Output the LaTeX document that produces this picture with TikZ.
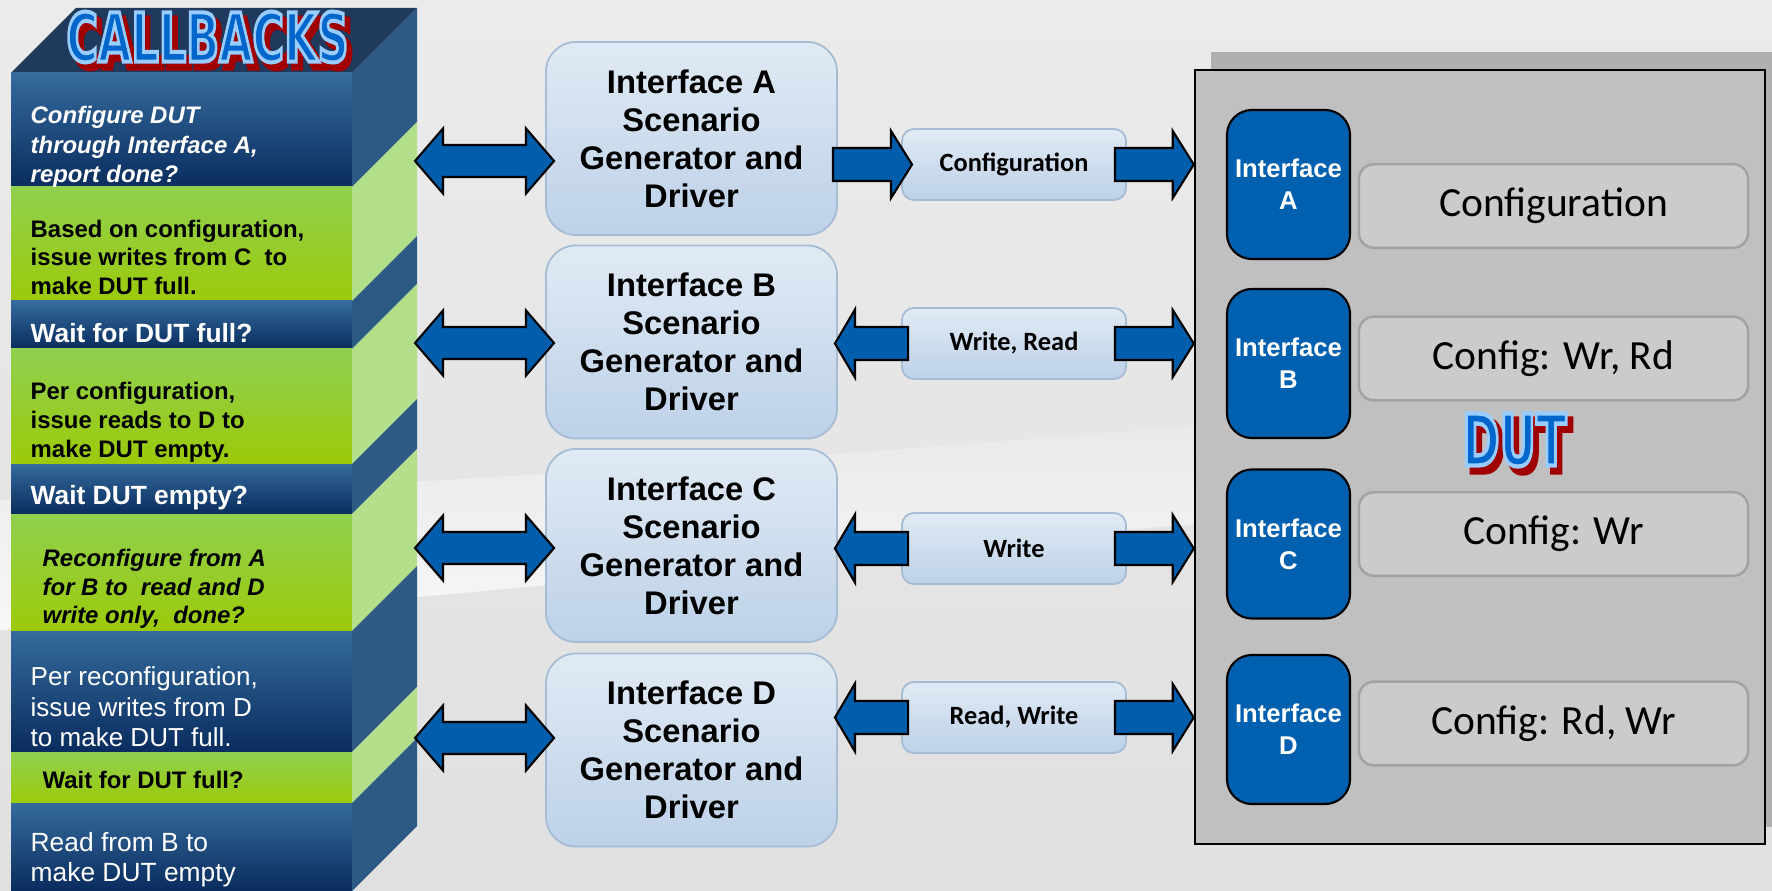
\documentclass[tikz,border=0pt]{standalone}
\usepackage{fontspec}
\setmainfont{Liberation Sans}
\newfontfamily\calib{Carlito}
\newfontfamily\wafont{DejaVu Sans}[BoldFeatures={FakeBold=6}]
\newfontfamily\wafontR{DejaVu Sans}[BoldFeatures={FakeBold=9}]
\usepackage{graphicx}
\usetikzlibrary{calc}

\definecolor{bgA}{HTML}{EBEBEB}
\definecolor{bgB}{HTML}{E0E0E0}
\definecolor{bluetop}{HTML}{356B9D}
\definecolor{bluemid}{HTML}{275688}
\definecolor{bluebot}{HTML}{0A2C5E}
\definecolor{greentop}{HTML}{90D050}
\definecolor{greenbot}{HTML}{9CCA0A}
\definecolor{greenside}{HTML}{B3DF8A}
\definecolor{blueside}{HTML}{2D5985}
\definecolor{topnavy}{HTML}{1F3A5D}
\definecolor{arrowblue}{HTML}{005EAC}
\definecolor{ifblue}{HTML}{0060B0}
\definecolor{dutgray}{HTML}{C0C0C0}
\definecolor{dutshadow}{HTML}{B0B0B0}
\definecolor{cfgfill}{HTML}{CBCBCB}
\definecolor{cfgedge}{HTML}{A2A2A2}
\definecolor{glosstop}{HTML}{E0EAF4}
\definecolor{glossbot}{HTML}{BDD1E8}
\definecolor{glossedge}{HTML}{A5BCD4}
\definecolor{waBlue}{HTML}{0066CC}
\definecolor{waRed}{HTML}{A00000}

\tikzset{
  fatarrow/.style={fill=arrowblue, draw=black, line width=0.6pt, line join=miter},
  stk/.style={anchor=west, align=left, inner sep=0pt},
  genbox/.style={rounded corners=0.3cm, draw=glossedge, line width=0.5pt,
    top color=glosstop, bottom color=glossbot, minimum width=2.91cm,
    minimum height=1.93cm, inner sep=0pt, align=center,
    font=\bfseries\fontsize{9.3pt}{10.8pt}\selectfont},
  lblbox/.style={rounded corners=0.12cm, draw=glossedge, line width=0.5pt,
    top color=glosstop, bottom color=glossbot, minimum width=2.24cm,
    minimum height=0.71cm, inner sep=0pt, align=center,
    font=\calib\bfseries\fontsize{7.5pt}{9pt}\selectfont},
  ifbox/.style={rounded corners=0.25cm, draw=black, line width=0.6pt, fill=ifblue,
    minimum width=1.23cm, minimum height=1.49cm, inner sep=0pt, align=center,
    text=white, font=\bfseries\fontsize{7.3pt}{9.1pt}\selectfont},
  cfgbox/.style={rounded corners=0.15cm, draw=cfgedge, line width=0.7pt, fill=cfgfill,
    minimum width=3.89cm, minimum height=0.835cm, inner sep=0pt,
    font=\calib\fontsize{11.8pt}{14pt}\selectfont},
  waword/.style={inner sep=0pt},
}

% fat arrows: points given as tikz coordinates
\newcommand\dblarrow[2]{\draw[fatarrow] let \p1=#1, \p2=#2 in
  (\x1,\y1) -- (\x1+0.28cm,\y1+0.325cm) -- (\x1+0.28cm,\y1+0.16cm) --
  (\x2-0.28cm,\y1+0.16cm) -- (\x2-0.28cm,\y1+0.325cm) -- (\x2,\y1) --
  (\x2-0.28cm,\y1-0.325cm) -- (\x2-0.28cm,\y1-0.16cm) --
  (\x1+0.28cm,\y1-0.16cm) -- (\x1+0.28cm,\y1-0.325cm) -- cycle;}
\newcommand\fatR[2]{\draw[fatarrow] let \p1=#1, \p2=#2 in
  (\x1,\y1+0.165cm) -- (\x2-0.21cm,\y1+0.165cm) -- (\x2-0.21cm,\y1+0.335cm) --
  (\x2,\y1) -- (\x2-0.21cm,\y1-0.335cm) -- (\x2-0.21cm,\y1-0.165cm) --
  (\x1,\y1-0.165cm) -- cycle;}
\newcommand\fatL[2]{\draw[fatarrow] let \p1=#1, \p2=#2 in
  (\x2,\y1+0.165cm) -- (\x1+0.2cm,\y1+0.165cm) -- (\x1+0.2cm,\y1+0.34cm) --
  (\x1,\y1) -- (\x1+0.2cm,\y1-0.34cm) -- (\x1+0.2cm,\y1-0.165cm) --
  (\x2,\y1-0.165cm) -- cycle;}
% word art: red shadow copy, then blue text with light-blue stroke
\newcommand\wordart[4]{%
  \node[waword] (#1s) at ($#2+(5,6)$) {\color{waRed}\resizebox{#3}{#4}{\wafontR\bfseries\wtext}};
  \node[waword] (#1) at #2 {\color{waBlue}\special{pdf:code 0.6 0.8 1 RG}\resizebox{#3}{#4}{\wafont\bfseries\wtext}};}

\begin{document}
\begin{tikzpicture}[x=0.01cm,y=-0.01cm]
\useasboundingbox (0,0) rectangle (1772,891);
% background
\shade[top color=bgA, bottom color=bgB] (0,0) rectangle (1772,891);
\shade[top color=bgA!60!bgB, bottom color=white!60!bgA]
  (0,500) .. controls (600,480) and (1000,440) .. (1772,380) --
  (1772,480) .. controls (1000,530) and (600,590) .. (0,630) -- cycle;

% ---------- callbacks stack ----------
\fill[topnavy] (11,73) -- (352,73) -- (417,8) -- (76,8) -- cycle;
\foreach \ya/\yb/\k in {73/187/b,187/301/g,301/349/b,349/464/g,464/514/b,514/631/g,631/752/b,752/803/g,803/891/b}{
  \if\k b
    \shade[top color=bluetop, middle color=bluemid, bottom color=bluebot] (11,\ya) rectangle (352,\yb);
    \fill[blueside] (352,\ya) -- (417,\ya-65) -- (417,\yb-65) -- (352,\yb) -- cycle;
  \else
    \shade[top color=greentop, bottom color=greenbot] (11,\ya) rectangle (352,\yb);
    \fill[greenside] (352,\ya) -- (417,\ya-65) -- (417,\yb-65) -- (352,\yb) -- cycle;
  \fi
}
\coordinate (stackR) at (415,0);

\node[stk, text=white, font=\bfseries\itshape\fontsize{6.8pt}{8.3pt}\selectfont] (t1) at (30,147)
  {Configure DUT\\through Interface A,\\report done?};
\node[stk, font=\bfseries\fontsize{6.8pt}{8.1pt}\selectfont] (t2) at (30,257)
  {Based on configuration,\\issue writes from C\ \ to\\make DUT full.};
\node[stk, text=white, font=\bfseries\fontsize{7.5pt}{9pt}\selectfont] (t3) at (30,333)
  {Wait for DUT full?};
\node[stk, font=\bfseries\fontsize{6.8pt}{8.2pt}\selectfont] (t4) at (30,422)
  {Per configuration,\\issue reads to D to\\make DUT empty.};
\node[stk, text=white, font=\bfseries\fontsize{7.5pt}{9pt}\selectfont] (t5) at (30,498)
  {Wait DUT empty?};
\node[stk, font=\bfseries\itshape\fontsize{6.8pt}{8.1pt}\selectfont] (t6) at (42,589)
  {Reconfigure from A\\for B to\ \ read and D\\write only,\ \ done?};
\node[stk, text=white, font=\fontsize{7.4pt}{8.7pt}\selectfont] (t7) at (30,707)
  {Per reconfiguration,\\issue writes from D\\to make DUT full.};
\node[stk, font=\bfseries\fontsize{6.8pt}{8pt}\selectfont] (t8) at (42,780)
  {Wait for DUT full?};
\node[stk, text=white, font=\fontsize{7.5pt}{8.6pt}\selectfont] (t9) at (30,860)
  {Read from B to\\make DUT empty};

% ---------- generator boxes ----------
\node[genbox] (gA) at (691.5,138.5) {Interface A\\Scenario\\Generator and\\Driver};
\node[genbox] (gB) at (691.5,342) {Interface B\\Scenario\\Generator and\\Driver};
\node[genbox] (gC) at (691.5,545.5) {Interface C\\Scenario\\Generator and\\Driver};
\node[genbox] (gD) at (691.5,750) {Interface D\\Scenario\\Generator and\\Driver};

% ---------- label boxes ----------
\node[lblbox] (lA) at (1014,164.5) {Configuration};
\node[lblbox] (lB) at (1014,343.5) {Write, Read};
\node[lblbox] (lC) at (1014,548.5) {Write};
\node[lblbox] (lD) at (1014,717.5) {Read, Write};

% ---------- DUT ----------
\fill[dutshadow] (1211,52) rectangle (1790,827);
\node[draw=black, line width=0.6pt, fill=dutgray, minimum width=5.7cm,
  minimum height=7.74cm, inner sep=0pt] (dut) at (1480,457) {};
\node[ifbox] (iA) at (1288.5,184.5) {Interface\\A};
\node[ifbox] (iB) at (1288.5,363.5) {Interface\\B};
\node[ifbox] (iC) at (1288.5,544) {Interface\\C};
\node[ifbox] (iD) at (1288.5,729.5) {Interface\\D};
\node[cfgbox] (cA) at (1553.5,206) {Configuration};
\node[cfgbox] (cB) at (1553.5,358.5) {Config: Wr, Rd};
\node[cfgbox] (cC) at (1553.5,534) {Config: Wr};
\node[cfgbox] (cD) at (1553.5,723.5) {Config: Rd, Wr};

% ---------- arrows ----------
\coordinate (dA) at (0,161);
\coordinate (dB) at (0,343);
\coordinate (dC) at (0,548);
\coordinate (dD) at (0,738);
\dblarrow{(stackR|-dA)}{($(gA.west|-dA)+(9,0)$)}
\dblarrow{(stackR|-dB)}{($(gB.west|-dB)+(9,0)$)}
\dblarrow{(stackR|-dC)}{($(gC.west|-dC)+(9,0)$)}
\dblarrow{(stackR|-dD)}{($(gD.west|-dD)+(9,0)$)}

\fatR{($(gA.east|-lA)+(-5,0)$)}{($(lA.west)+(11,0)$)}
\fatL{($(gB.east|-lB)+(-3,0)$)}{($(lB.west)+(7,0)$)}
\fatL{($(gC.east|-lC)+(-3,0)$)}{($(lC.west)+(7,0)$)}
\fatL{($(gD.east|-lD)+(-3,0)$)}{($(lD.west)+(7,0)$)}

\fatR{($(lA.east)+(-12,0)$)}{(dut.west|-lA)}
\fatR{($(lB.east)+(-12,0)$)}{(dut.west|-lB)}
\fatR{($(lC.east)+(-12,0)$)}{(dut.west|-lC)}
\fatR{($(lD.east)+(-12,0)$)}{(dut.west|-lD)}

% ---------- word art titles ----------
\def\wtext{CALLBACKS}
\wordart{callbacks}{(207.5,37)}{2.82cm}{0.5cm}
\def\wtext{DUT}
\wordart{dutword}{(1514.5,440)}{1.04cm}{0.52cm}
\end{tikzpicture}
\end{document}
